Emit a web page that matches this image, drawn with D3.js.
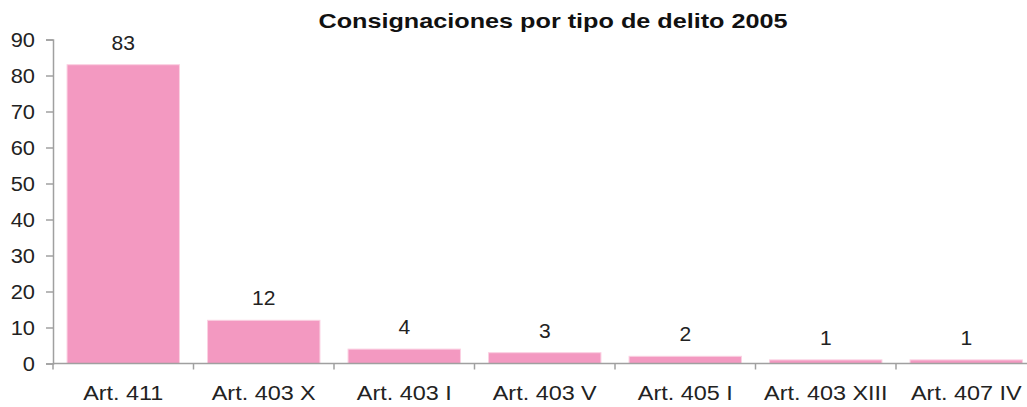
<!DOCTYPE html>
<html><head><meta charset="utf-8">
<script src="https://cdn.jsdelivr.net/npm/d3@7"></script>
<style>body{margin:0;background:#fff}svg{display:block}</style>
</head><body>
<svg id="c" width="1027" height="407"></svg>
<script>
const categories = ["Art. 411","Art. 403 X","Art. 403 I","Art. 403 V","Art. 405 I","Art. 403 XIII","Art. 407 IV"];
const values = [83,12,4,3,2,1,1];
const yTicks = [0,10,20,30,40,50,60,70,80,90];
const title = "Consignaciones por tipo de delito 2005";

const svg = d3.select("#c");
const font = "'Liberation Sans', Arial, sans-serif";
const x0 = 53, bandW = 140.5;
const x = d3.scaleBand().domain(categories).range([x0, x0 + bandW*categories.length]).paddingInner(0.2).paddingOuter(0.1);
const y = d3.scaleLinear().domain([0,90]).range([363.5, 39.5]);
const axisColor = "#a0a0a0";

// bars
svg.append("g").selectAll("rect").data(values).join("rect")
  .attr("x",(d,i)=>x(categories[i]))
  .attr("width",x.bandwidth())
  .attr("y",d=>y(d))
  .attr("height",d=>y(0)-y(d))
  .attr("fill","#f399c1")
  .attr("stroke","#fbd0e2").attr("stroke-width",1);

// y axis
const ya = svg.append("g").attr("transform",`translate(${x0},0)`)
  .call(d3.axisLeft(y).tickValues(yTicks).tickSize(7).tickPadding(8));
ya.select(".domain").attr("stroke",axisColor).attr("stroke-width",1.5);
ya.selectAll(".tick line").attr("stroke",axisColor).attr("stroke-width",1.5);
ya.selectAll(".tick text").attr("font-family",font).attr("font-size",19.5).attr("fill","#222")
  .attr("transform","scale(1.12,1)").attr("x",-18/1.12).attr("dy","0.34em");

// x axis line + boundary ticks
const xa = svg.append("g");
xa.append("line").attr("x1",x0).attr("x2",1027).attr("y1",y(0)).attr("y2",y(0))
  .attr("stroke",axisColor).attr("stroke-width",1.5);
xa.selectAll("line.t").data(d3.range(categories.length+1)).join("line").attr("class","t")
  .attr("x1",i=>x0+i*bandW).attr("x2",i=>x0+i*bandW)
  .attr("y1",y(0)).attr("y2",y(0)+6).attr("stroke",axisColor).attr("stroke-width",1.5);
xa.selectAll("text").data(categories).join("text")
  .attr("transform",d=>`translate(${x(d)+x.bandwidth()/2},400) scale(1.2,1)`)
  .attr("text-anchor","middle").attr("font-family",font).attr("font-size",19.5).attr("fill","#222")
  .text(d=>d);

// value labels
svg.append("g").selectAll("text").data(values).join("text")
  .attr("transform",(d,i)=>`translate(${x(categories[i])+x.bandwidth()/2},${y(d)-15}) scale(1.08,1)`)
  .attr("text-anchor","middle").attr("font-family",font).attr("font-size",19.5).attr("fill","#222")
  .text(d=>d);

// title
svg.append("text").attr("transform",`translate(553,28) scale(1.23,1)`)
  .attr("text-anchor","middle").attr("font-family",font).attr("font-size",20.5).attr("font-weight","bold").attr("fill","#111")
  .text(title);
</script>
</body></html>
